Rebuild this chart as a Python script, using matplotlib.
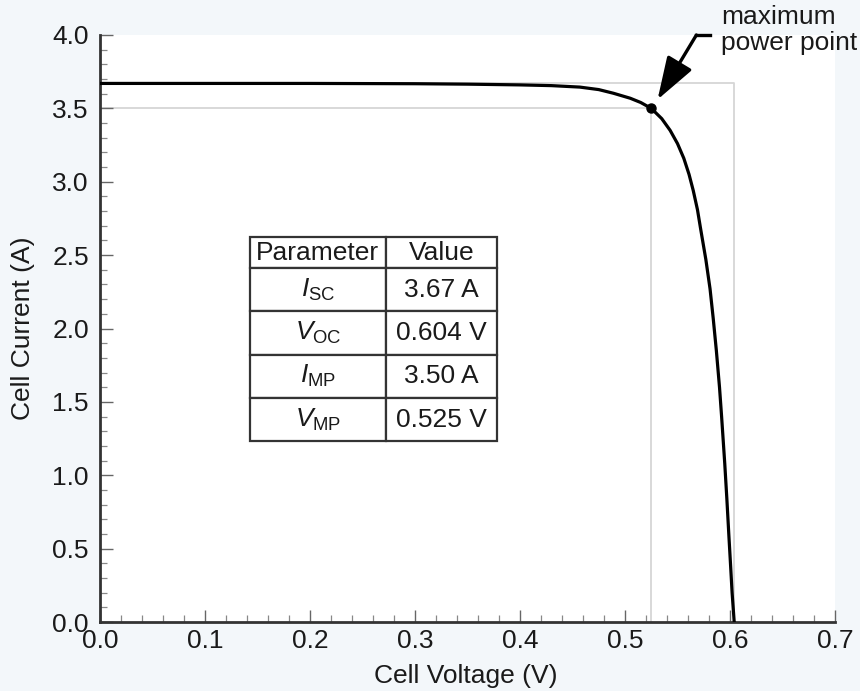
import matplotlib
matplotlib.use("Agg")
import matplotlib.pyplot as plt

plt.rcParams['font.family'] = ['Liberation Sans', 'DejaVu Sans']
plt.rcParams['mathtext.fontset'] = 'custom'
plt.rcParams['mathtext.rm'] = 'Liberation Sans'
plt.rcParams['mathtext.it'] = 'Liberation Sans:italic'

# I-V curve
voltage = [0.0, 0.10, 0.20, 0.30, 0.35, 0.40, 0.43, 0.457, 0.475, 0.489,
           0.505, 0.515, 0.525, 0.535, 0.543, 0.550, 0.556, 0.561, 0.565,
           0.569, 0.572, 0.577, 0.581, 0.584, 0.587, 0.590, 0.592, 0.595,
           0.597, 0.599, 0.6006, 0.602, 0.604]
current = [3.67, 3.67, 3.67, 3.668, 3.665, 3.66, 3.655, 3.645, 3.628, 3.603,
           3.569, 3.54, 3.50, 3.43, 3.35, 3.26, 3.16, 3.05, 2.94,
           2.81, 2.68, 2.47, 2.27, 2.07, 1.85, 1.60, 1.40, 1.08,
           0.84, 0.58, 0.38, 0.20, 0.0]

I_SC, V_OC = 3.67, 0.604
I_MP, V_MP = 3.50, 0.525

col_labels = ['Parameter', 'Value']
param_names = [r'$I_{\mathrm{SC}}$', r'$V_{\mathrm{OC}}$',
               r'$I_{\mathrm{MP}}$', r'$V_{\mathrm{MP}}$']
param_values = ['3.67 A', '0.604 V', '3.50 A', '0.525 V']

fs = 19

fig = plt.figure(figsize=(8.6, 6.91), dpi=100, facecolor='#f3f7fa')
ax = fig.add_axes([100 / 860, 69 / 691, 735 / 860, 587 / 691])
ax.set_facecolor('white')

# gray guide rectangles
ax.plot([0, V_MP, V_MP], [I_MP, I_MP, 0], color='#d6d6d6', lw=1.3, zorder=1)
ax.plot([0, V_OC, V_OC], [I_SC, I_SC, 0], color='#d6d6d6', lw=1.3, zorder=1)

ax.plot(voltage, current, color='black', lw=2.3, zorder=3)
ax.plot([V_MP], [I_MP], 'o', color='black', ms=6.5, zorder=4)

ax.set_xlim(0, 0.7)
ax.set_ylim(0, 4.0)
ax.set_xticks([0.0, 0.1, 0.2, 0.3, 0.4, 0.5, 0.6, 0.7])
ax.set_yticks([0.0, 0.5, 1.0, 1.5, 2.0, 2.5, 3.0, 3.5, 4.0])
ax.set_xticks([i * 0.02 for i in range(36)], minor=True)
ax.set_yticks([i * 0.1 for i in range(41)], minor=True)
ax.xaxis.set_major_formatter(matplotlib.ticker.FormatStrFormatter('%.1f'))
ax.yaxis.set_major_formatter(matplotlib.ticker.FormatStrFormatter('%.1f'))

for side in ['top', 'right']:
    ax.spines[side].set_visible(False)
for side in ['left', 'bottom']:
    ax.spines[side].set_linewidth(2)
    ax.spines[side].set_color('#333333')

ax.tick_params(which='major', direction='in', length=9, width=1, color='#666666',
               labelsize=fs, labelcolor='#1a1a1a')
ax.tick_params(which='minor', direction='in', length=5, width=0.9, color='#888888')
ax.tick_params(axis='x', pad=5)
ax.tick_params(axis='y', pad=8)

ax.set_xlabel('Cell Voltage (V)', fontsize=fs, color='#1a1a1a')
ax.set_ylabel('Cell Current (A)', fontsize=fs, color='#1a1a1a')
ax.xaxis.set_label_coords(0.498, -0.072)
ax.yaxis.set_label_coords(-0.088, 0.5)

# parameter table
cell_text = [[n, v] for n, v in zip(param_names, param_values)]
tbl = ax.table(cellText=cell_text, colLabels=col_labels, cellLoc='center',
               bbox=[0.204, 0.308, 0.336, 0.348])
tbl.auto_set_font_size(False)
tbl.set_fontsize(fs)
for (r, c), cell in tbl.get_celld().items():
    cell.set_linewidth(1.6)
    cell.set_edgecolor('#333333')
    cell.set_facecolor('white')
    cell.set_height(31 if r == 0 else 43)
    cell.set_width(136 if c == 0 else 111)
    cell.get_text().set_color('#1a1a1a')

# maximum power point callout
ax.plot([0.581, 0.568], [4.0, 4.0], color='black', lw=2.4, clip_on=False)
ax.annotate('', xy=(0.531, 3.56), xytext=(0.568, 4.0),
            arrowprops=dict(arrowstyle='-|>,head_length=2.4,head_width=0.8',
                            lw=2.4, color='black', shrinkA=0, shrinkB=0,
                            mutation_scale=11),
            annotation_clip=False)
fig.text(721 / 860, 1 - 5 / 691, 'maximum\npower point', fontsize=fs,
         color='#1a1a1a', ha='left', va='top', linespacing=1.1)

fig.savefig('out.png', dpi=100, facecolor=fig.get_facecolor())
